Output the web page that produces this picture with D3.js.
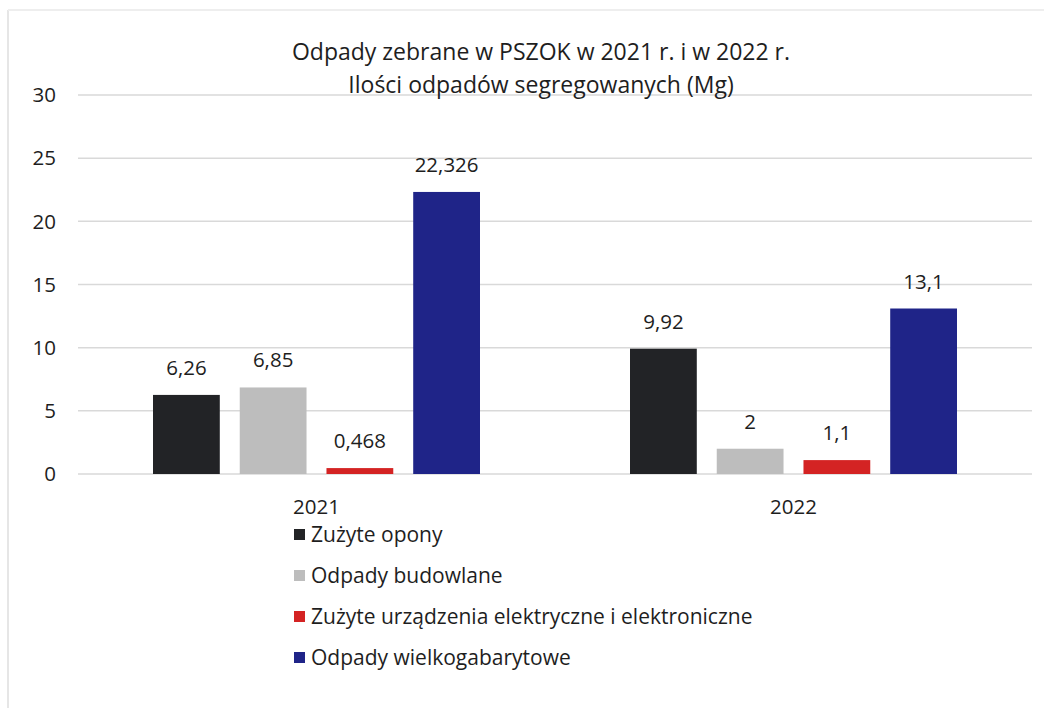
<!DOCTYPE html>
<html lang="pl">
<head>
<meta charset="UTF-8">
<title>Odpady PSZOK</title>
<script src="https://d3js.org/d3.v7.min.js"></script>
<style>
  body { margin: 0; background: #fff; }
  text { font-family: "Open Sans", "DejaVu Sans", sans-serif; fill: #1e1e1e; }
</style>
</head>
<body>
<script>
// data
const years = ["2021", "2022"];
const series = ["Zużyte opony", "Odpady budowlane", "Zużyte urządzenia elektryczne i elektroniczne", "Odpady wielkogabarytowe"];
const values2021 = [6.26, 6.85, 0.468, 22.326];
const values2022 = [9.92, 2, 1.1, 13.1];
const yTicks = [0, 5, 10, 15, 20, 25, 30];
const colors = ["#222326", "#bdbdbd", "#d42323", "#1f2488"];

const W = 1044, H = 710;
const svg = d3.select("body").append("svg").attr("width", W).attr("height", H);

// faint scan frame
svg.append("line").attr("x1", 8).attr("y1", 10).attr("x2", 8).attr("y2", 708)
    .attr("stroke", "#e6e6e6").attr("stroke-width", 2);
svg.append("line").attr("x1", 8).attr("y1", 10).attr("x2", W).attr("y2", 10)
    .attr("stroke", "#eeeeee").attr("stroke-width", 2);

const plotLeft = 78, plotRight = 1032, plotTop = 95, plotBottom = 474;

const y = d3.scaleLinear().domain([0, 30]).range([plotBottom, plotTop]);
const x0 = d3.scaleBand().domain(years).range([plotLeft, plotRight]);
const x1 = d3.scaleBand().domain(d3.range(series.length)).range([-163.5, 163.5]).paddingInner(0.23);

// gridlines
svg.append("g").selectAll("line").data(yTicks).join("line")
    .attr("x1", plotLeft).attr("x2", plotRight)
    .attr("y1", d => y(d)).attr("y2", d => y(d))
    .attr("stroke", "#d9d9d9").attr("stroke-width", 1.5);

// y axis labels
svg.append("g").selectAll("text").data(yTicks).join("text")
    .attr("x", 56).attr("y", d => y(d)).attr("dy", "0.35em")
    .attr("text-anchor", "end").attr("font-size", 20.5)
    .text(d => d);

// title
svg.append("text").attr("x", 541).attr("y", 60).attr("text-anchor", "middle")
    .attr("font-size", 23).text("Odpady zebrane w PSZOK w 2021 r. i w 2022 r.");
svg.append("text").attr("x", 541).attr("y", 93).attr("text-anchor", "middle")
    .attr("font-size", 23).text("Ilości odpadów segregowanych (Mg)");

const rows = [values2021, values2022];
const groups = svg.append("g").selectAll("g").data(years).join("g")
    .attr("transform", d => `translate(${x0(d) + x0.bandwidth() / 2},0)`);

groups.selectAll("rect").data((d, i) => rows[i].map((v, j) => ({v, j}))).join("rect")
    .attr("x", d => x1(d.j)).attr("width", x1.bandwidth())
    .attr("y", d => y(d.v)).attr("height", d => plotBottom - y(d.v))
    .attr("fill", d => colors[d.j]);

groups.selectAll("text.val").data((d, i) => rows[i].map((v, j) => ({v, j}))).join("text")
    .attr("class", "val")
    .attr("x", d => x1(d.j) + x1.bandwidth() / 2)
    .attr("y", d => y(d.v) - 20)
    .attr("text-anchor", "middle").attr("font-size", 20.5)
    .text(d => String(d.v).replace(".", ","));

// category labels
svg.append("g").selectAll("text").data(years).join("text")
    .attr("x", d => x0(d) + x0.bandwidth() / 2).attr("y", 514)
    .attr("text-anchor", "middle").attr("font-size", 20.5)
    .text(d => d);

// legend
const legend = svg.append("g").selectAll("g").data(series).join("g")
    .attr("transform", (d, i) => `translate(294,${535 + i * 41})`);
legend.append("rect").attr("x", 0).attr("y", -6).attr("width", 11).attr("height", 11)
    .attr("fill", (d, i) => colors[i]);
legend.append("text").attr("x", 17).attr("y", 0).attr("dy", "0.35em")
    .attr("font-size", 21).text(d => d);
</script>
</body>
</html>
